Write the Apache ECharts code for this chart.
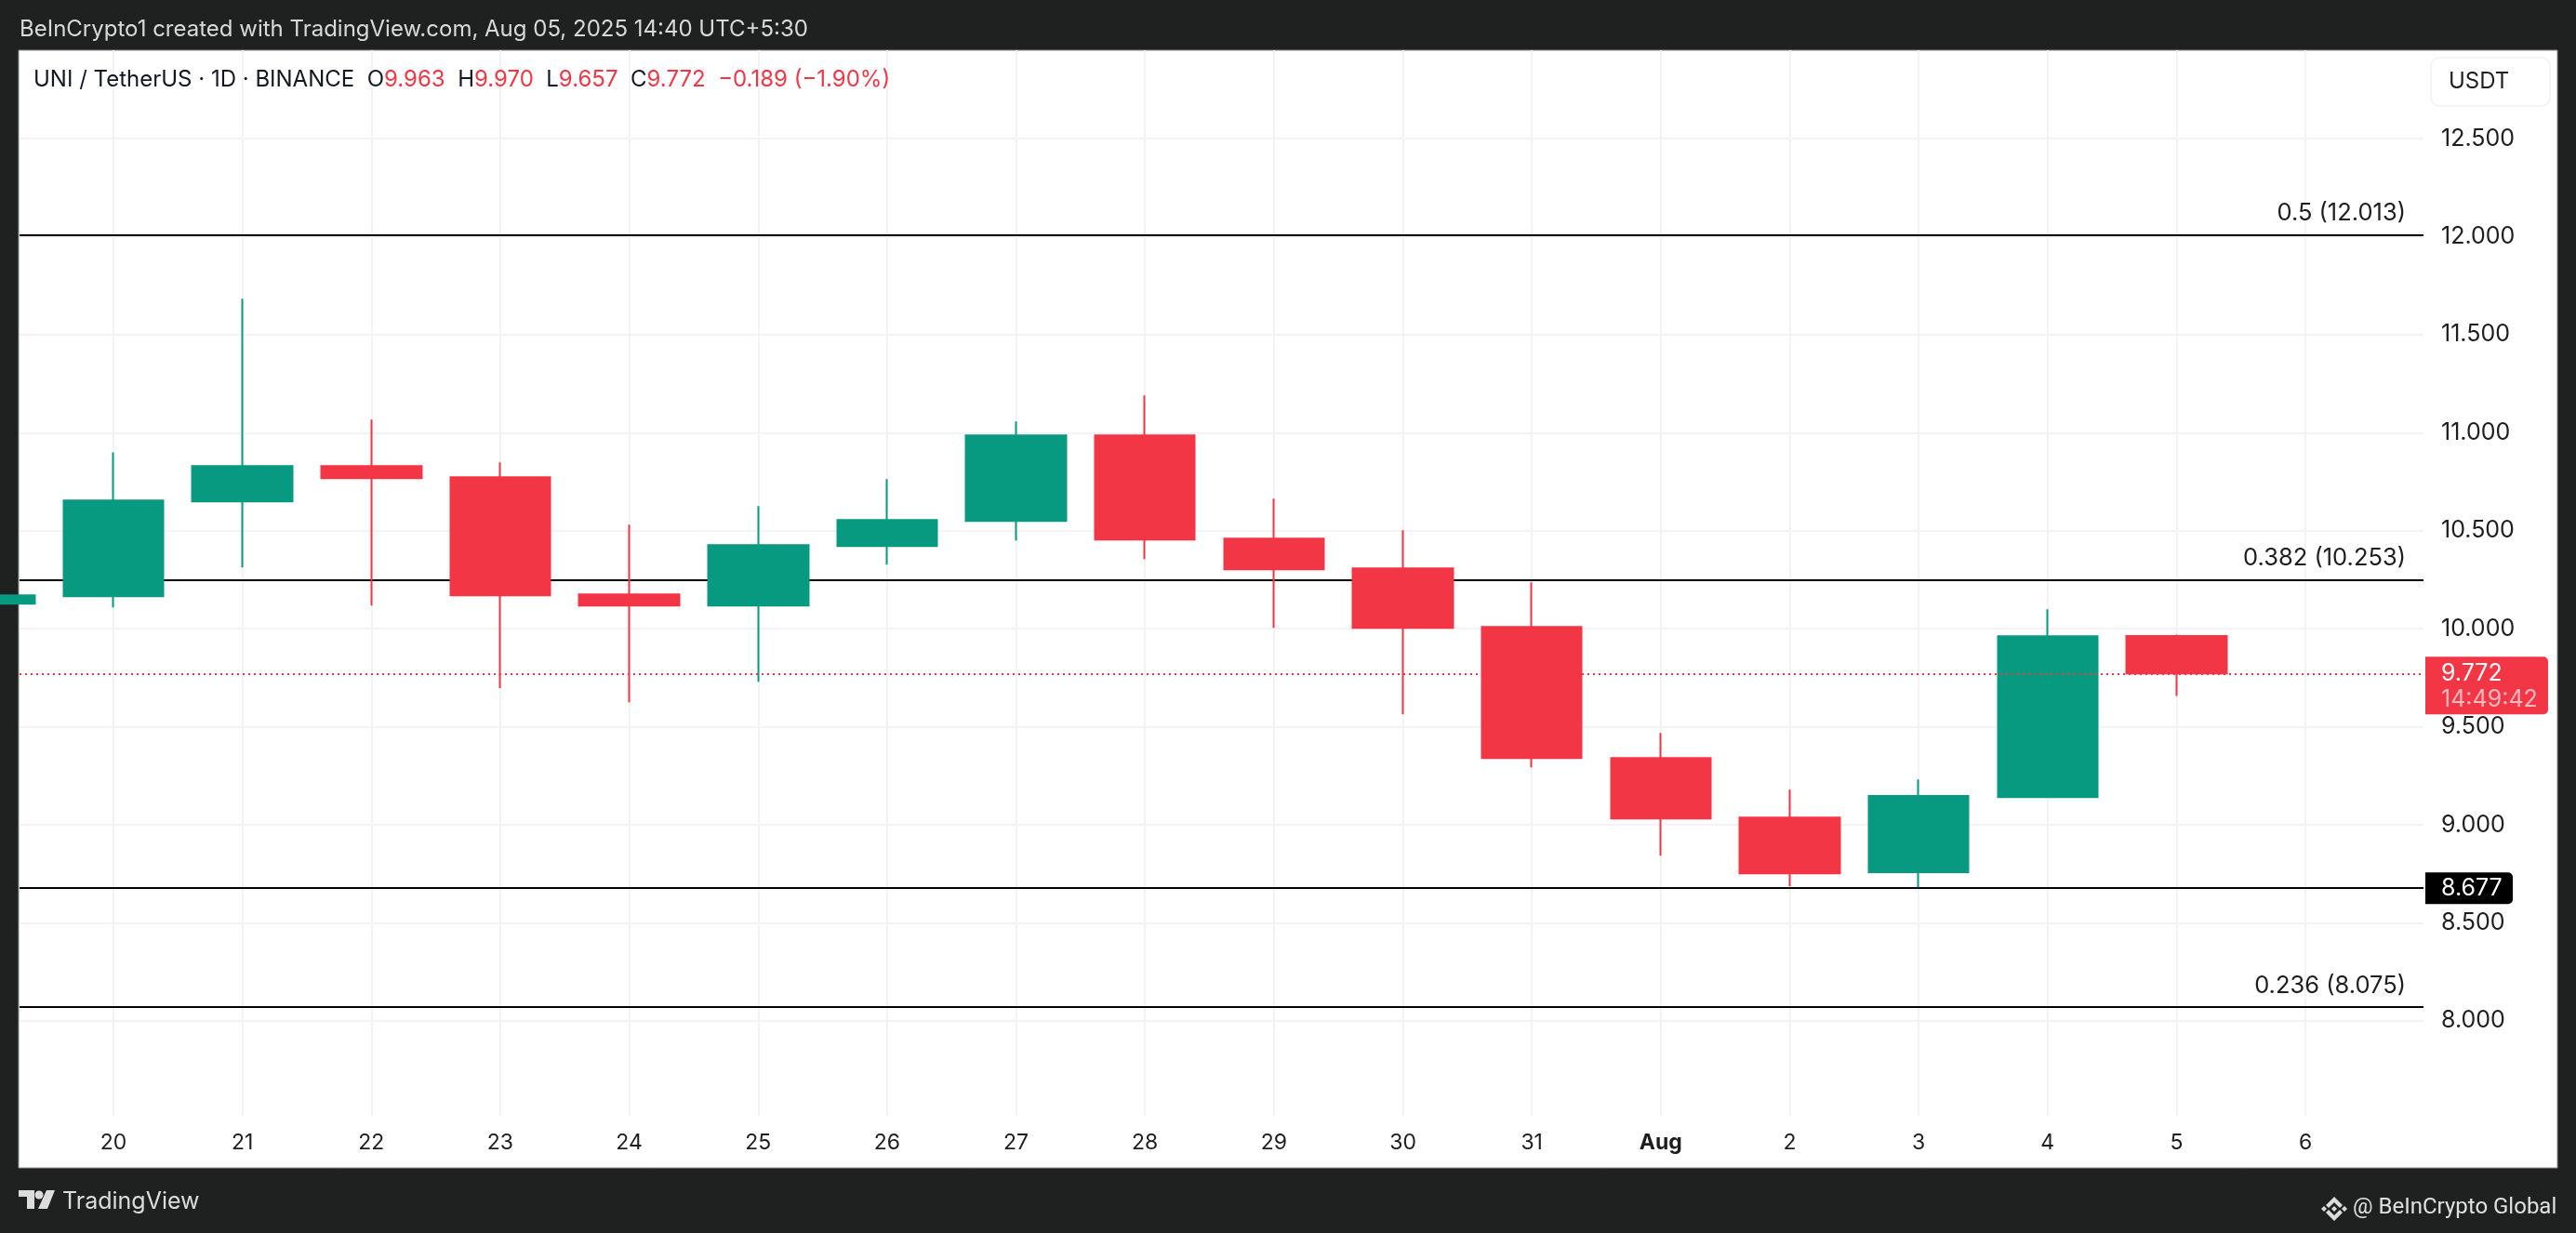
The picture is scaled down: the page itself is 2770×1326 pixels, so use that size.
<!DOCTYPE html>
<html>
<head>
  <meta charset="utf-8">
  <style>
    html, body { margin: 0; padding: 0; background: #1f2120; }
    #id_chart { width: 2770px; height: 1326px; }
  </style>
</head>
<body>
  <div id="id_chart"></div>
  <script src="https://cdn.jsdelivr.net/npm/echarts@6/dist/echarts.min.js"></script>
  <script type="text/javascript">
    // daily candles
    var days = ['2025-07-19', '2025-07-20', '2025-07-21', '2025-07-22', '2025-07-23', '2025-07-24', '2025-07-25', '2025-07-26', '2025-07-27',
      '2025-07-28', '2025-07-29', '2025-07-30', '2025-07-31', '2025-08-01', '2025-08-02', '2025-08-03', '2025-08-04', '2025-08-05'];
    var opens =  [10.128, 10.166, 10.650, 10.830, 10.773, 10.175, 10.118, 10.422, 10.550, 10.986, 10.460, 10.308, 10.009, 9.341, 9.037, 8.758, 9.142, 9.963];
    var closes = [10.171, 10.654, 10.830, 10.768, 10.171, 10.118, 10.427, 10.555, 10.986, 10.455, 10.303, 10.005, 9.341, 9.033, 8.753, 9.147, 9.962, 9.772];
    var lows =   [10.090, 10.109, 10.313, 10.118, 9.697, 9.625, 9.730, 10.327, 10.450, 10.356, 10.005, 9.564, 9.293, 8.843, 8.687, 8.682, 9.137, 9.657];
    var highs =  [10.230, 10.900, 11.683, 11.067, 10.849, 10.531, 10.626, 10.763, 11.057, 11.190, 10.664, 10.503, 10.237, 9.469, 9.180, 9.232, 10.100, 9.970];

    var fibRatios = ['0.5', '0.382', '0.236'];
    var fibLevels = [12.013, 10.253, 8.075];
    var supportLevel = 8.677;
    var lastPrice = 9.772;
    var countdown = '14:49:42';
    var monthNames = { 7: 'Aug' };

    // axis window of the screenshot
    var xStart = '2025-07-19T06:31:00';
    var xEnd = '2025-08-06T21:58:00';
    var yMin = 7.516;
    var yMax = 12.951;

    var upColor = '#089981';
    var downColor = '#f23645';
    var gridColor = '#f3f3f3';
    var textColor = '#1e1e1e';
    var fontName = 'Inter';

    var candleData = [];
    for (var i = 0; i < days.length; i++) {
      candleData.push([days[i], opens[i], closes[i], lows[i], highs[i]]);
    }

    var levelLines = [];
    for (var j = 0; j < fibLevels.length; j++) {
      levelLines.push({
        yAxis: fibLevels[j],
        label: { show: true, formatter: fibRatios[j] + ' (' + fibLevels[j].toFixed(3) + ')' }
      });
    }
    levelLines.push({ yAxis: supportLevel, label: { show: false } });

    var myChart = echarts.init(document.getElementById('id_chart'));
    var option = {
      animation: false,
      backgroundColor: '#1f2120',
      textStyle: { fontFamily: fontName },
      title: [{
        text: 'BeInCrypto1 created with TradingView.com, Aug 05, 2025 14:40 UTC+5:30',
        left: 21, top: 20, padding: 0,
        textStyle: { color: '#d9d9d9', fontSize: 24, fontWeight: 400, fontFamily: fontName }
      }, {
        text: '{k|UNI / TetherUS · 1D · BINANCE  O}{r|9.963}{k|  H}{r|9.970}{k|  L}{r|9.657}{k|  C}{r|9.772}{r|  −0.189 (−1.90%)}',
        left: 36, top: 74, padding: 0,
        textStyle: {
          fontWeight: 400,
          rich: {
            k: { color: '#131722', fontSize: 24, fontWeight: 400, fontFamily: fontName },
            r: { color: downColor, fontSize: 24, fontWeight: 400, fontFamily: fontName }
          }
        }
      }],
      grid: { left: 21, right: 164, top: 54, bottom: 126 },
      xAxis: {
        type: 'time',
        min: xStart,
        max: xEnd,
        splitNumber: 18,
        axisLine: { show: false },
        axisTick: { show: false },
        splitLine: { show: true, showMinLine: false, showMaxLine: false, lineStyle: { color: gridColor, width: 2 } },
        axisLabel: {
          margin: 18,
          showMinLabel: false,
          showMaxLabel: false,
          hideOverlap: false,
          color: textColor,
          fontSize: 23,
          fontFamily: fontName,
          formatter: function (value) {
            var d = new Date(value);
            if (d.getDate() === 1) {
              return '{b|' + monthNames[d.getMonth()] + '}';
            }
            return '' + d.getDate();
          },
          rich: { b: { fontWeight: 700, fontSize: 23, color: textColor, fontFamily: fontName } }
        }
      },
      yAxis: {
        type: 'value',
        position: 'right',
        min: yMin,
        max: yMax,
        splitNumber: 11,
        axisLine: { show: false },
        axisTick: { show: false },
        splitLine: { show: true, showMinLine: false, showMaxLine: false, lineStyle: { color: gridColor, width: 2 } },
        axisLabel: {
          margin: 19,
          showMinLabel: false,
          showMaxLabel: false,
          color: textColor,
          fontSize: 25,
          fontFamily: fontName,
          formatter: function (value) { return value.toFixed(3); }
        }
      },
      series: [{
        type: 'candlestick',
        z: 3,
        barWidth: 108,
        data: candleData,
        itemStyle: {
          color: upColor,
          color0: downColor,
          borderColor: upColor,
          borderColor0: downColor,
          borderWidth: 2
        },
        markLine: {
          z: 1,
          silent: true,
          symbol: 'none',
          animation: false,
          lineStyle: { color: '#000000', width: 2, type: 'solid' },
          label: {
            position: 'insideEndTop',
            distance: 10,
            padding: [0, 9, 0, 0],
            color: textColor,
            fontSize: 25.5,
            fontFamily: fontName
          },
          emphasis: { disabled: true },
          data: levelLines
        }
      }, {
        type: 'line',
        z: 5,
        data: [],
        markLine: {
          z: 5,
          silent: true,
          symbol: 'none',
          animation: false,
          lineStyle: { color: downColor, width: 2, type: [2, 4] },
          label: { show: false },
          emphasis: { disabled: true },
          data: [{ yAxis: lastPrice }]
        }
      }],
      graphic: [
        { type: 'rect', id: 'panel', z: -10, silent: true, shape: { x: 20, y: 54, width: 2730, height: 1202 }, style: { fill: '#ffffff', stroke: '#8a8a8a', lineWidth: 1 } },
        { type: 'rect', id: 'unitBox', z: 6, silent: true, shape: { x: 2614, y: 62, width: 128, height: 52, r: 9 }, style: { fill: '#ffffff', stroke: '#f4f4f4', lineWidth: 2 } },
        { type: 'text', id: 'unitText', z: 7, silent: true, style: { x: 2633, y: 88, text: 'USDT', fill: textColor, font: '400 24px ' + fontName, verticalAlign: 'middle' } },
        // TradingView mark
        { type: 'polygon', z: 7, silent: true, shape: { points: [[20, 1280], [37, 1280], [37, 1300], [29, 1300], [29, 1287], [20, 1287]] }, style: { fill: '#dcdcdc' } },
        { type: 'circle', z: 7, silent: true, shape: { cx: 42, cy: 1285, r: 4.5 }, style: { fill: '#dcdcdc' } },
        { type: 'polygon', z: 7, silent: true, shape: { points: [[50, 1280], [59, 1280], [51, 1300], [41, 1300]] }, style: { fill: '#dcdcdc' } },
        { type: 'text', z: 7, silent: true, style: { x: 67, y: 1292, text: 'TradingView', fill: '#dcdcdc', font: '400 25px ' + fontName, verticalAlign: 'middle' } },
        // Binance style mark
        { type: 'polygon', z: 7, silent: true, shape: { points: [[2510, 1287], [2519, 1296], [2516, 1299], [2510, 1293], [2504, 1299], [2501, 1296]] }, style: { fill: '#dcdcdc' } },
        { type: 'polygon', z: 7, silent: true, shape: { points: [[2510, 1313], [2519, 1304], [2516, 1301], [2510, 1307], [2504, 1301], [2501, 1304]] }, style: { fill: '#dcdcdc' } },
        { type: 'polygon', z: 7, silent: true, shape: { points: [[2510, 1297], [2513, 1300], [2510, 1303], [2507, 1300]] }, style: { fill: '#dcdcdc' } },
        { type: 'polygon', z: 7, silent: true, shape: { points: [[2499, 1297], [2502, 1300], [2499, 1303], [2496, 1300]] }, style: { fill: '#dcdcdc' } },
        { type: 'polygon', z: 7, silent: true, shape: { points: [[2521, 1297], [2524, 1300], [2521, 1303], [2518, 1300]] }, style: { fill: '#dcdcdc' } },
        { type: 'text', z: 7, silent: true, style: { x: 2530, y: 1299, text: '@ BeInCrypto Global', fill: '#e0e0e0', font: '24px Roboto', verticalAlign: 'middle' } }
      ]
    };
    myChart.setOption(option);

    // price tags follow the axis scale
    var priceY = myChart.convertToPixel({ yAxisIndex: 0 }, lastPrice);
    var supportY = myChart.convertToPixel({ yAxisIndex: 0 }, supportLevel);
    myChart.setOption({
      graphic: [
        { type: 'rect', id: 'priceTag', z: 8, silent: true, shape: { x: 2608, y: priceY - 18, width: 132, height: 62, r: [0, 5, 5, 0] }, style: { fill: downColor } },
        { type: 'text', id: 'priceText', z: 9, silent: true, style: { x: 2625, y: priceY, text: lastPrice.toFixed(3), fill: '#ffffff', font: '25px ' + fontName, verticalAlign: 'middle' } },
        { type: 'text', id: 'clockText', z: 9, silent: true, style: { x: 2625, y: priceY + 28, text: countdown, fill: 'rgba(255,255,255,0.65)', font: '25px ' + fontName, verticalAlign: 'middle' } },
        { type: 'rect', id: 'supportTag', z: 8, silent: true, shape: { x: 2608, y: supportY - 17, width: 94, height: 34, r: [0, 5, 5, 0] }, style: { fill: '#000000' } },
        { type: 'text', id: 'supportText', z: 9, silent: true, style: { x: 2625, y: supportY, text: supportLevel.toFixed(3), fill: '#ffffff', font: '25px ' + fontName, verticalAlign: 'middle' } }
      ]
    });
  </script>
</body>
</html>
